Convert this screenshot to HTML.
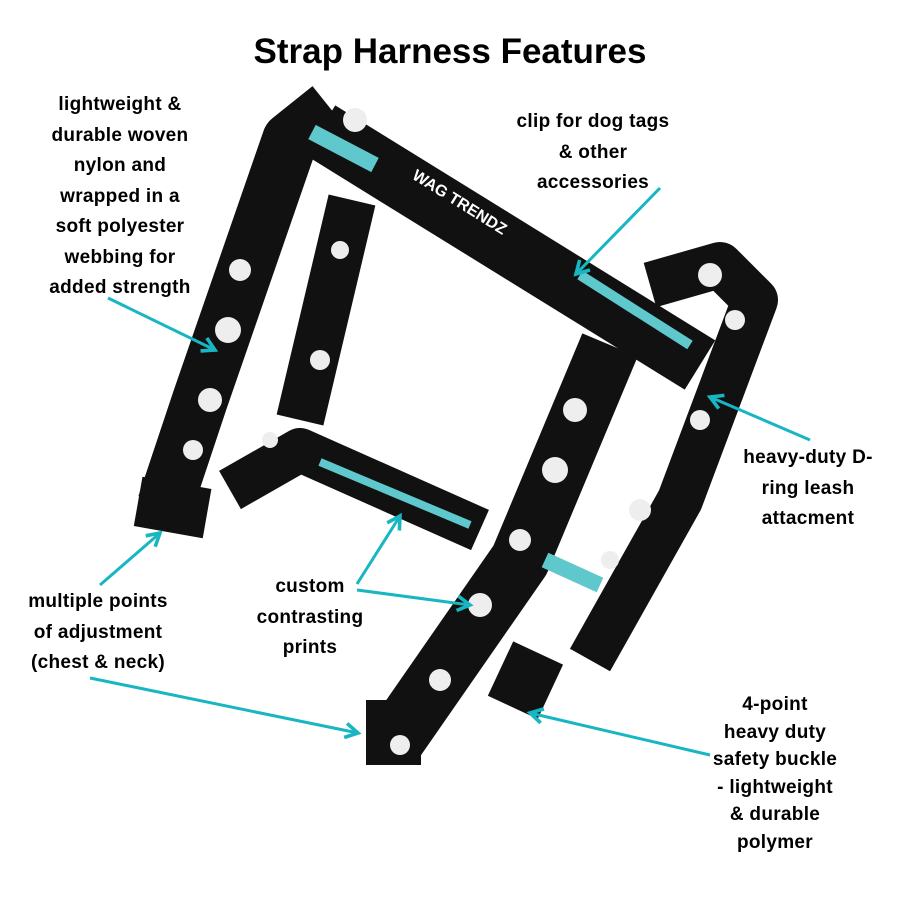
<!DOCTYPE html>
<html><head><meta charset="utf-8"><style>
body{margin:0;background:#fff;}
#c{position:relative;width:900px;height:900px;overflow:hidden;font-family:"Liberation Sans",sans-serif;}
.t{position:absolute;font-weight:bold;font-size:19px;line-height:30.5px;text-align:center;color:#000;white-space:nowrap;letter-spacing:0.3px;}
h1{position:absolute;margin:0;top:32px;left:0;width:900px;text-align:center;font-size:35px;font-weight:bold;}
svg{position:absolute;left:0;top:0;}
</style></head><body><div id="c">
<svg width="900" height="900" viewBox="0 0 900 900">
<defs>
<marker id="a" viewBox="0 0 10 10" refX="8" refY="5" markerWidth="6" markerHeight="6" orient="auto"><path d="M1 1 L8 5 L1 9" fill="none" stroke="#18b6c2" stroke-width="2"/></marker>
</defs>
<g fill="none" stroke="#111" stroke-linejoin="round">
<path d="M352 200 L300 420" stroke-width="48"/>
<path d="M230 490 L300 450 L480 530" stroke-width="44"/>
<path d="M330 108 L290 140 L200 400 L165 505" stroke-width="56"/>
<path d="M320 130 L700 365" stroke-width="58"/>
<path d="M650 285 L720 265 L755 300 L680 500 L590 660" stroke-width="46"/>
<path d="M610 345 L520 560 L395 740" stroke-width="60"/>
</g>
<rect x="138" y="482" width="70" height="50" fill="#111" transform="rotate(10 170 505)"/>
<rect x="366" y="700" width="55" height="65" fill="#111"/>
<rect x="498" y="650" width="55" height="60" fill="#111" transform="rotate(25 525 680)"/>
<g stroke="#5ec8cc" fill="none">
<path d="M312 132 L375 165" stroke-width="16"/>
<path d="M580 275 L690 345" stroke-width="10"/>
<path d="M320 462 L470 525" stroke-width="8"/>
<path d="M545 560 L600 585" stroke-width="16"/>
</g>
<g fill="#eee">
<circle cx="355" cy="120" r="12"/><circle cx="240" cy="270" r="11"/><circle cx="228" cy="330" r="13"/><circle cx="210" cy="400" r="12"/><circle cx="193" cy="450" r="10"/>
<circle cx="340" cy="250" r="9"/><circle cx="320" cy="360" r="10"/><circle cx="710" cy="275" r="12"/><circle cx="735" cy="320" r="10"/><circle cx="700" cy="420" r="10"/><circle cx="640" cy="510" r="11"/><circle cx="610" cy="560" r="9"/>
<circle cx="575" cy="410" r="12"/><circle cx="555" cy="470" r="13"/><circle cx="520" cy="540" r="11"/><circle cx="480" cy="605" r="12"/><circle cx="440" cy="680" r="11"/><circle cx="400" cy="745" r="10"/><circle cx="270" cy="440" r="8"/>
</g>
<text x="395" y="205" transform="rotate(32 450 220)" fill="#fff" font-family="Liberation Sans" font-weight="bold" font-size="16">WAG TRENDZ</text>
<g stroke="#18b6c2" stroke-width="3" fill="none" marker-end="url(#a)">
<line x1="108" y1="298" x2="215" y2="350"/>
<line x1="660" y1="188" x2="576" y2="274"/>
<line x1="810" y1="440" x2="710" y2="397"/>
<line x1="100" y1="585" x2="160" y2="533"/>
<line x1="357" y1="584" x2="400" y2="516"/>
<line x1="357" y1="590" x2="470" y2="605"/>
<line x1="90" y1="678" x2="358" y2="733"/>
<line x1="710" y1="755" x2="530" y2="713"/>
</g>
</svg>
<h1>Strap Harness Features</h1>
<div class="t" style="left:20px;width:200px;top:90px">lightweight &amp;<br>durable woven<br>nylon and<br>wrapped in a<br>soft polyester<br>webbing for<br>added strength</div>
<div class="t" style="left:493px;width:200px;top:107px">clip for dog tags<br>&amp; other<br>accessories</div>
<div class="t" style="left:708px;width:200px;top:443px">heavy-duty D-<br>ring leash<br>attacment</div>
<div class="t" style="left:0px;width:196px;top:587px">multiple points<br>of adjustment<br>(chest &amp; neck)</div>
<div class="t" style="left:210px;width:200px;top:572px">custom<br>contrasting<br>prints</div>
<div class="t" style="left:675px;width:200px;top:691px;line-height:27.5px">4-point<br>heavy duty<br>safety buckle<br>- lightweight<br>&amp; durable<br>polymer</div>
</div></body></html>
